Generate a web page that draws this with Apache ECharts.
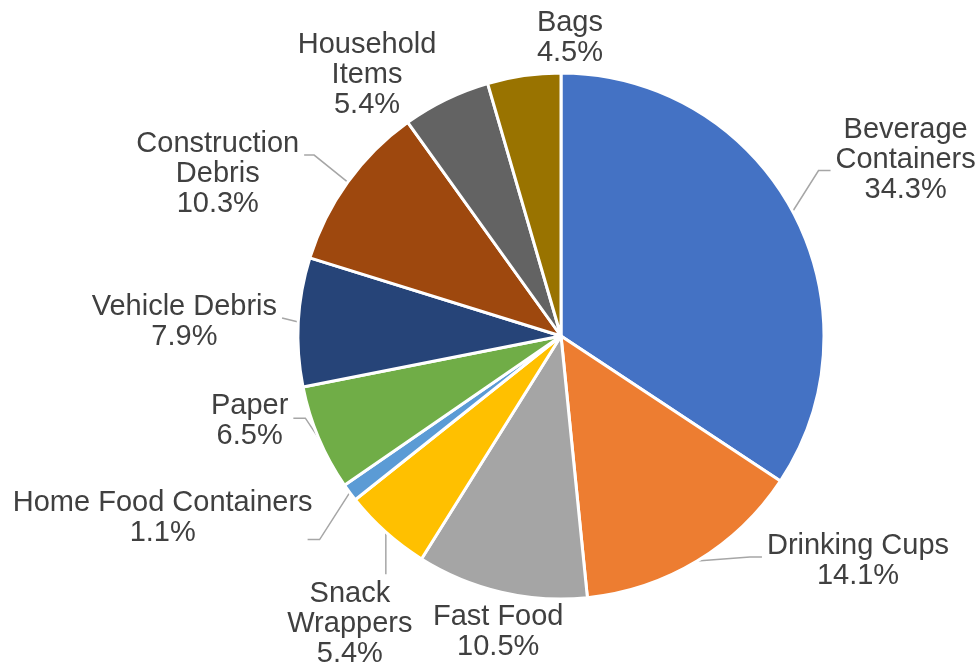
<!DOCTYPE html>
<html>
<head>
<meta charset="utf-8">
<script src="https://cdn.jsdelivr.net/npm/echarts@6/dist/echarts.min.js"></script>
<style>
  html, body { margin: 0; padding: 0; background: #ffffff; }
  #chart { width: 980px; height: 665px; }
</style>
</head>
<body>
<div id="chart"></div>
<script>
// Litter composition by category (percent of items)
const categories = [
  'Beverage\nContainers',
  'Drinking Cups',
  'Fast Food',
  'Snack\nWrappers',
  'Home Food Containers',
  'Paper',
  'Vehicle Debris',
  'Construction\nDebris',
  'Household\nItems',
  'Bags'
];
const shares = [34.3, 14.1, 10.5, 5.4, 1.1, 6.5, 7.9, 10.3, 5.4, 4.5];
const sliceColors = [
  '#4472C4', '#ED7D31', '#A5A5A5', '#FFC000', '#5B9BD5',
  '#70AD47', '#264478', '#9E480E', '#636363', '#997300'
];

// Label placement: offset of the label centre from the slice's outer mid-point,
// plus how its leader line (if any) attaches to the label box.
const labelPlacement = [
  { dx: 113, dy: -51, line: { side: 'left', dy: 10, knee: 12 } },
  { dx: 161, dy: 0, line: { side: 'left', dy: -4, knee: 12 } },
  { dx: -3, dy: 40, line: null },
  { dx: -36, dy: 92, line: { side: 'top' } },
  { dx: -187, dy: 25, line: { side: 'right', dy: 22, knee: 12, inset: 10 } },
  { dx: -69, dy: -17, line: { side: 'right', dy: -3, knee: 12 } },
  { dx: -114, dy: 0, line: { side: 'right', dy: -4, knee: 0 } },
  { dx: -130, dy: -8, line: { side: 'right', dy: -19, knee: 10 } },
  { dx: -79, dy: -24, line: null },
  { dx: 46, dy: -38, line: null }
];

const chart = echarts.init(document.getElementById('chart'), null, { renderer: 'canvas' });

const pieData = categories.map((name, i) => ({
  name: name,
  value: shares[i],
  itemStyle: { color: sliceColors[i] },
  labelLine: labelPlacement[i].line ? {} : { lineStyle: { opacity: 0 } }
}));

const GAP = 5;

chart.setOption({
  backgroundColor: '#ffffff',
  animation: false,
  series: [{
    type: 'pie',
    center: [561, 336],
    radius: 263,
    startAngle: 90,
    clockwise: true,
    avoidLabelOverlap: false,
    data: pieData,
    itemStyle: { borderColor: '#ffffff', borderWidth: 3 },
    label: {
      show: true,
      position: 'outside',
      formatter: '{b}\n{c}%',
      color: '#404040',
      fontFamily: '"Liberation Sans", Arial, Helvetica, sans-serif',
      fontSize: 29,
      lineHeight: 30,
      align: 'center'
    },
    labelLine: {
      show: true,
      length: 10,
      length2: 10,
      smooth: false,
      lineStyle: { color: '#A6A6A6', width: 1.5 }
    },
    labelLayout: function (params) {
      const cfg = labelPlacement[params.dataIndex];
      const pts = params.labelLinePoints;
      if (!pts) return {};
      const p0 = pts[0];
      const cx = p0[0] + cfg.dx;
      const cy = p0[1] + cfg.dy;
      const w = params.labelRect.width;
      const h = params.labelRect.height;
      let linePts = [p0.slice(), p0.slice()];
      const ln = cfg.line;
      if (ln) {
        if (ln.side === 'top') {
          linePts = [p0.slice(), [p0[0], cy - h / 2 - GAP]];
        } else {
          const inset = ln.inset || 0;
          const sign = ln.side === 'left' ? -1 : 1;
          const ex = cx + sign * (w / 2 + GAP - inset);
          const ey = cy + ln.dy;
          const kx = ex + sign * ln.knee;
          linePts = [p0.slice(), [kx, ey], [ex, ey]];
        }
      }
      return {
        x: cx,
        y: cy,
        align: 'center',
        verticalAlign: 'middle',
        labelLinePoints: linePts
      };
    }
  }]
});
</script>
</body>
</html>
